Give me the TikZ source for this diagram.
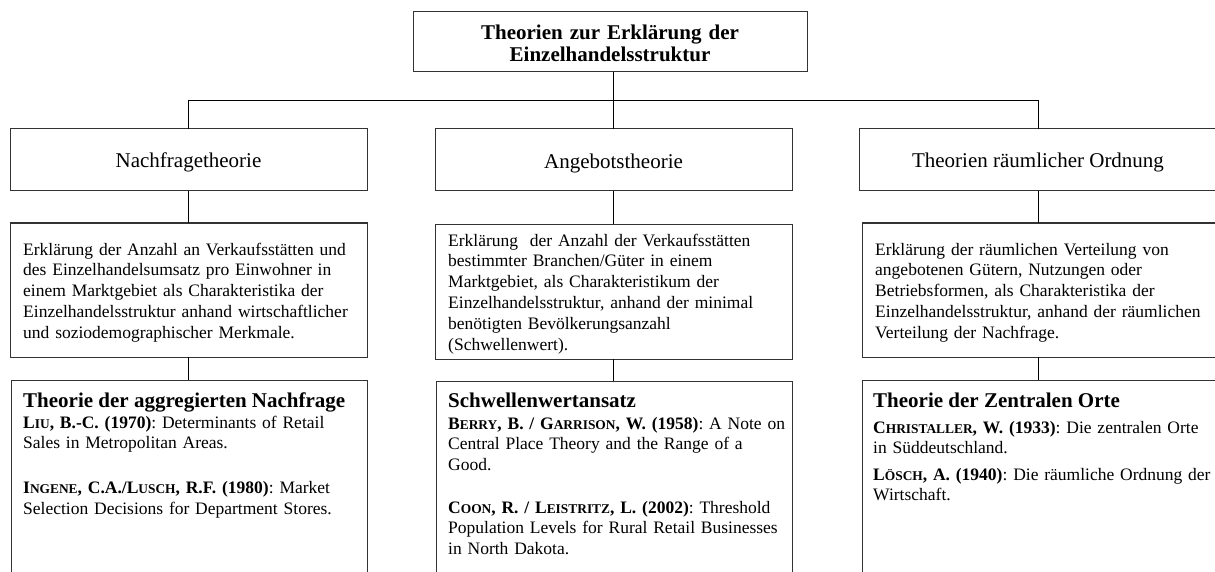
\documentclass[tikz,border=0pt]{standalone}
\usepackage{fontspec}
\setmainfont{Liberation Serif}
% reduced capitals for author names
\newcommand{\kap}[1]{{\fontsize{13.4pt}{20.5pt}\selectfont #1}}
\begin{document}
\frenchspacing
\begin{tikzpicture}[x=1pt,y=-1pt,
  frame/.style={draw=black!80, line width=1pt, inner sep=0pt, outer sep=0pt},
  link/.style={draw=black, line width=0.9pt},
  heading/.style={font=\fontsize{21pt}{22pt}\selectfont\bfseries, inner sep=0pt, anchor=base west},
  label/.style={font=\fontsize{21pt}{24pt}\selectfont, inner sep=0pt, anchor=base},
  body/.style={font=\fontsize{17.5pt}{20.9pt}\selectfont, inner sep=0pt, anchor=base west, text width=345pt, align=left},
  refs/.style={font=\fontsize{17.5pt}{20.5pt}\selectfont, inner sep=0pt, anchor=base west, text width=345pt, align=left},
]
\useasboundingbox (0,0) rectangle (1215,572);
\clip (0,0) rectangle (1215,572);

% boxes
\node[frame, minimum width=394pt, minimum height=60pt] (title) at (610,42) {};
\node[frame, minimum width=357pt, minimum height=62pt] (n1) at (188.5,160) {};
\node[frame, minimum width=357pt, minimum height=62pt] (n2) at (613.5,160) {};
\node[frame, minimum width=358pt, minimum height=62pt] (n3) at (1038,160) {};
\node[frame, minimum width=357pt, minimum height=134pt] (d1) at (188.5,290) {};
\node[frame, minimum width=357pt, minimum height=135pt] (d2) at (613.5,291.5) {};
\node[frame, minimum width=360pt, minimum height=134pt] (d3) at (1042,290) {};
\node[frame, minimum width=356pt, minimum height=240pt] (l1) at (189,500) {};
\node[frame, minimum width=356pt, minimum height=239pt] (l2) at (614,500.5) {};
\node[frame, minimum width=360pt, minimum height=240pt] (l3) at (1042,500) {};

% connectors
\coordinate (c1) at (188,100);
\coordinate (c2) at (613,100);
\coordinate (c3) at (1038,100);
\draw[link] (title.south -| c2) -- (c2);
\draw[link] (c1) -- (c3);
\draw[link] (c1) -- (n1.north -| c1);
\draw[link] (c2) -- (n2.north -| c2);
\draw[link] (c3) -- (n3.north -| c3);
\draw[link] (n1.south -| c1) -- (d1.north -| c1);
\draw[link] (n2.south -| c2) -- (d2.north -| c2);
\draw[link] (n3.south -| c3) -- (d3.north -| c3);
\draw[link] (d1.south -| c1) -- (l1.north -| c1);
\draw[link] (d2.south -| c2) -- (l2.north -| c2);
\draw[link] (d3.south -| c3) -- (l3.north -| c3);

% title
\node[font=\fontsize{21pt}{22pt}\selectfont\bfseries, inner sep=0pt, anchor=base,
      text width=380pt, align=center] (titletext) at (610,40)
  {Theorien zur Erklärung der\\Einzelhandelsstruktur};

% theory labels
\node[label] (n1text) at (188.5,168) {Nachfragetheorie};
\node[label] (n2text) at (613.5,169) {Angebotstheorie};
\node[label] (n3text) at (1038,168) {Theorien räumlicher Ordnung};

% descriptions
\node[body] (d1text) at (23,255) {Erklärung der Anzahl an Verkaufsstätten und\\
des Einzelhandelsumsatz pro Einwohner in\\
einem Marktgebiet als Charakteristika der\\
Einzelhandelsstruktur anhand wirtschaftlicher\\
und soziodemographischer Merkmale.};
\node[body] (d2text) at (448,246) {Erklärung\ \ der Anzahl der Verkaufsstätten\\
bestimmter Branchen/Güter in einem\\
Marktgebiet, als Charakteristikum der\\
Einzelhandelsstruktur, anhand der minimal\\
benötigten Bevölkerungsanzahl\\
(Schwellenwert).};
\node[body] (d3text) at (875,255) {Erklärung der räumlichen Verteilung von\\
angebotenen Gütern, Nutzungen oder\\
Betriebsformen, als Charakteristika der\\
Einzelhandelsstruktur, anhand der räumlichen\\
Verteilung der Nachfrage.};

% approaches and literature
\node[heading] (l1head) at (23,407) {Theorie der aggregierten Nachfrage};
\node[heading] (l2head) at (448,407) {Schwellenwertansatz};
\node[heading] (l3head) at (873,407) {Theorie der Zentralen Orte};

\node[refs] (l1refs) at (23,428) {\textbf{L\kap{IU}, B.-C. (1970)}: Determinants of Retail\\
Sales in Metropolitan Areas.\\[24.5pt]
\textbf{I\kap{NGENE}, C.A./L\kap{USCH}, R.F. (1980)}: Market\\
Selection Decisions for Department Stores.};
\node[refs] (l2refs) at (448,429) {\textbf{B\kap{ERRY}, B. / G\kap{ARRISON}, W. (1958)}: A Note on\\
Central Place Theory and the Range of a\\
Good.\\[22.5pt]
\textbf{C\kap{OON}, R. / L\kap{EISTRITZ}, L. (2002)}: Threshold\\
Population Levels for Rural Retail Businesses\\
in North Dakota.};
\node[refs] (l3refs) at (873,433) {\textbf{C\kap{HRISTALLER}, W. (1933)}: Die zentralen Orte\\
in Süddeutschland.\\[6pt]
\textbf{L\kap{ÖSCH}, A. (1940)}: Die räumliche Ordnung der\\
Wirtschaft.};
\end{tikzpicture}
\end{document}
